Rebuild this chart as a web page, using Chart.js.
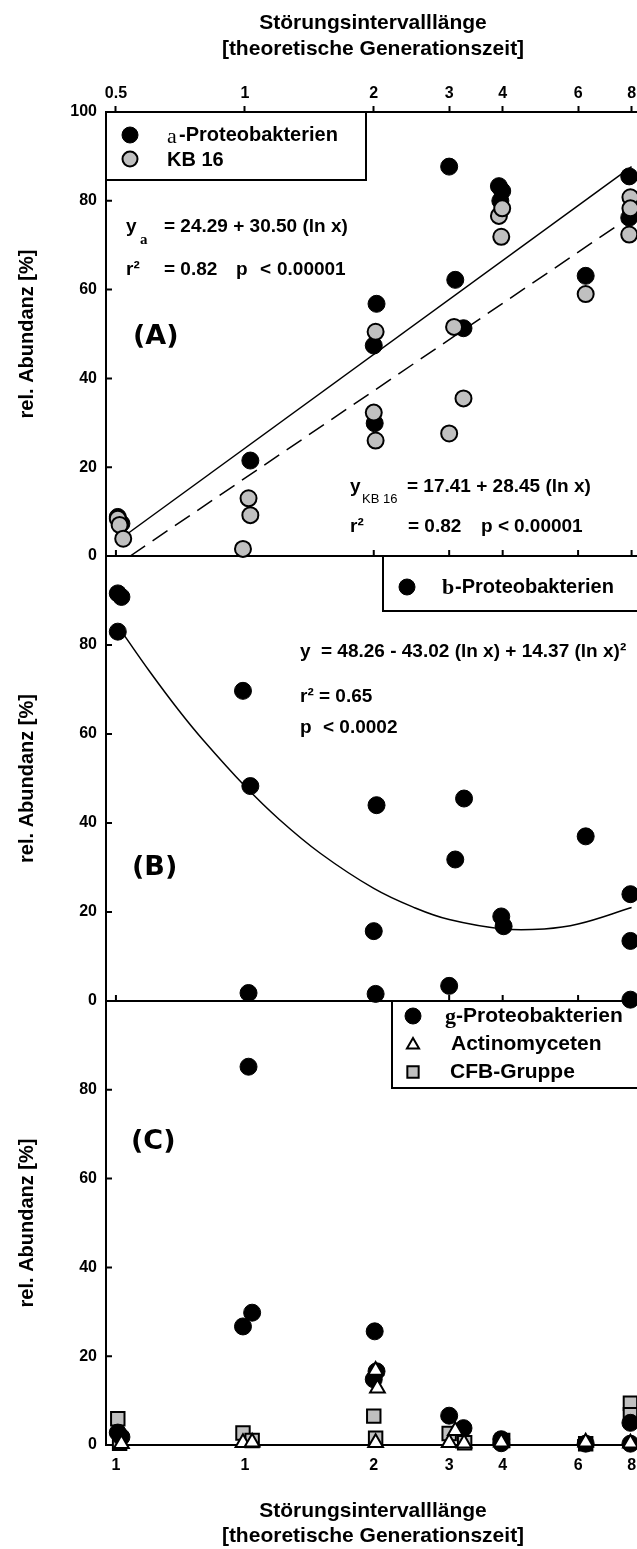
<!DOCTYPE html>
<html lang="de">
<head>
<meta charset="UTF-8">
<title>Störungsintervalllänge - rel. Abundanz</title>
<script src="https://cdn.jsdelivr.net/npm/chart.js"></script>
<style>
    html, body { margin: 0; padding: 0; background: #fff; overflow: hidden; }
    .wrap { position: relative; width: 637px; height: 1549px; overflow: hidden; }
    canvas { position: absolute; left: 0; top: 0; }
</style>
</head>
<body>
<div class="wrap">
    <canvas id="panelA" width="660" height="1549"></canvas>
    <canvas id="panelB" width="660" height="1549"></canvas>
    <canvas id="panelC" width="660" height="1549"></canvas>
</div>
<script>
// shared log x axis
const xTicks = [0.5, 1, 2, 3, 4, 6, 8];
const xTopLabels = ['0.5', '1', '2', '3', '4', '6', '8'];
const xBottomLabels = ['1', '1', '2', '3', '4', '6', '8'];
const yTicksA = [0, 20, 40, 60, 80, 100];
const yTicksBC = [0, 20, 40, 60, 80];

// (A) a-Proteobakterien and KB 16
const alphaX = [0.505, 0.515, 1.03, 2.0, 2.03, 2.01, 3.0, 3.1, 3.24, 3.92, 3.99, 3.95, 6.25, 7.9, 7.9];
const alphaY = [8.8, 7.3, 21.5, 47.4, 56.8, 29.9, 87.7, 62.2, 51.3, 83.3, 82.2, 80.0, 63.1, 85.5, 76.2];
const kbX = [0.505, 0.51, 0.52, 1.02, 1.03, 0.99, 2.02, 2.0, 2.02, 3.0, 3.08, 3.24, 3.92, 3.99, 3.97, 6.25, 7.95, 7.95, 7.9];
const kbY = [8.4, 7.0, 3.9, 13.0, 9.2, 1.6, 50.5, 32.3, 26.0, 27.6, 51.6, 35.5, 76.6, 78.3, 71.9, 59.0, 80.8, 78.3, 72.4];
// regression lines, end points
const alphaFitX = [0.53, 8];
const alphaFitY = [4.9, 87.7];
const kbFitX = [0.54, 8];
const kbFitY = [0, 76.6];

// (B) b-Proteobakterien
const betaX = [0.505, 0.515, 0.505, 0.99, 1.03, 1.02, 2.03, 2.0, 2.02, 3.0, 3.1, 3.25, 3.97, 4.02, 6.25, 7.95, 7.95, 7.95];
const betaY = [91.6, 90.8, 83.0, 69.7, 48.3, 1.8, 44.0, 15.7, 1.6, 3.4, 31.8, 45.5, 19.0, 16.8, 37.0, 24.0, 13.5, 0.3];
const betaFitX = [0.52, 0.6, 0.7, 0.8, 1, 1.2, 1.5, 2, 2.5, 3, 4, 5, 6, 8];
const betaFitY = [82.5, 74.0, 65.4, 58.6, 48.3, 40.9, 33.2, 25.3, 20.9, 18.3, 16.2, 16.2, 17.3, 21.0];

// (C) g-Proteobakterien, Actinomyceten, CFB-Gruppe
const gammaX = [0.505, 0.515, 0.99, 1.04, 1.02, 2.01, 2.03, 2.0, 3.0, 3.24, 3.97, 3.97, 6.25, 7.95, 7.95];
const gammaY = [2.8, 1.8, 26.7, 29.8, 85.2, 25.6, 16.6, 14.8, 6.6, 3.8, 1.3, 0.4, 0.3, 5.0, 0.3];
const actinoX = [0.515, 0.99, 1.04, 2.02, 2.04, 2.02, 3.0, 3.1, 3.25, 3.97, 6.25, 7.95];
const actinoY = [0.3, 0.5, 0.6, 16.8, 12.8, 0.5, 0.5, 3.2, 0.4, 0.6, 0.6, 0.4];
const cfbX = [0.505, 0.51, 0.99, 1.04, 2.0, 2.02, 3.0, 3.26, 4.0, 6.25, 7.95, 7.95];
const cfbY = [5.9, 0.4, 2.7, 1.0, 6.5, 1.5, 2.6, 0.5, 1.0, 0.3, 9.4, 6.8];

const pts = (xs, ys) => xs.map((x, i) => ({ x: x, y: ys[i] }));

const SANS = "'Liberation Sans', Arial, sans-serif";
const SERIF = "'Liberation Serif', 'Times New Roman', serif";
Chart.defaults.font.family = SANS;
Chart.defaults.color = '#000';

const STYLE = {
    black: { pointStyle: 'circle', pointRadius: 8.5, backgroundColor: '#000', borderColor: '#000', borderWidth: 1 },
    grey: { pointStyle: 'circle', pointRadius: 8, backgroundColor: '#c0c0c0', borderColor: '#000', borderWidth: 2 },
    tri: { pointStyle: 'triangle', pointRadius: 8.5, backgroundColor: '#fff', borderColor: '#000', borderWidth: 2 },
    square: { pointStyle: 'rect', pointRadius: 9.5, backgroundColor: '#c0c0c0', borderColor: '#000', borderWidth: 2 }
};

const X_MIN = 0.474, X_MAX = 8.37;

function logX(extra) {
    return Object.assign({
        type: 'logarithmic', min: X_MIN, max: X_MAX,
        afterBuildTicks: s => { s.ticks = xTicks.map(v => ({ value: v })); },
        grid: { drawOnChartArea: false, drawTicks: false },
        border: { display: true, color: '#000', width: 2 },
        ticks: { display: false }
    }, extra);
}

function yScale(ticks) {
    return {
        min: 0, max: 100,
        afterBuildTicks: s => { s.ticks = ticks.map(v => ({ value: v })); },
        afterFit: s => { s.width = 106; },
        grid: { drawOnChartArea: false, drawTicks: false },
        border: { display: true, color: '#000', width: 2 },
        ticks: { color: '#000', padding: 9, font: { size: 16, weight: 'bold' } },
        title: {
            display: true, text: 'rel. Abundanz [%]', color: '#000',
            font: { size: 20, weight: 'bold', lineHeight: 1.2 }, padding: { top: 15, bottom: 0 }
        }
    };
}

const xTitle = {
    display: true, color: '#000',
    text: ['Störungsintervalllänge', '[theoretische Generationszeit]'],
    font: { size: 21, weight: 'bold', lineHeight: 1.2 }
};

// tick marks pointing into the plot
function innerTicks(yTicks) {
    return {
        id: 'innerTicks',
        beforeDatasetsDraw(chart) {
            const { ctx, chartArea: a, scales } = chart;
            ctx.save();
            ctx.strokeStyle = '#000';
            ctx.lineWidth = 2;
            ctx.beginPath();
            yTicks.forEach(v => {
                const py = scales.y.getPixelForValue(v);
                ctx.moveTo(a.left, py); ctx.lineTo(a.left + 6, py);
            });
            xTicks.forEach(v => {
                const px = scales.x.getPixelForValue(v);
                ctx.moveTo(px, a.bottom); ctx.lineTo(px, a.bottom - 6);
            });
            ctx.stroke();
            ctx.restore();
        }
    };
}

function drawMark(ctx, m) {
    const r = m.pointRadius;
    ctx.beginPath();
    if (m.pointStyle === 'circle') {
        ctx.arc(m.x, m.y, r, 0, Math.PI * 2);
    } else if (m.pointStyle === 'triangle') {
        ctx.moveTo(m.x, m.y - r);
        ctx.lineTo(m.x + r * Math.sqrt(3) / 2, m.y + r / 2);
        ctx.lineTo(m.x - r * Math.sqrt(3) / 2, m.y + r / 2);
        ctx.closePath();
    } else {
        const s = r * Math.SQRT1_2;
        ctx.rect(m.x - s, m.y - s, 2 * s, 2 * s);
    }
    ctx.fillStyle = m.backgroundColor;
    ctx.fill();
    ctx.lineWidth = m.borderWidth;
    ctx.strokeStyle = m.borderColor;
    ctx.stroke();
}

// legend boxes, equations and panel letters
function overlay(spec) {
    return {
        id: 'overlay',
        afterDatasetsDraw(chart) {
            const ctx = chart.ctx;
            ctx.save();
            ctx.strokeStyle = '#000';
            ctx.lineWidth = 2;
            spec.boxes.forEach(b => ctx.strokeRect(b[0], b[1], b[2], b[3]));
            spec.marks.forEach(m => drawMark(ctx, m));
            ctx.fillStyle = '#000';
            ctx.textBaseline = 'middle';
            ctx.textAlign = 'left';
            spec.texts.forEach(t => { ctx.font = t.f; ctx.fillText(t.t, t.x, t.y); });
            ctx.restore();
        }
    };
}

const EQ = 'bold 19px ' + SANS;
const LEG = 'bold 20px ' + SANS;
const PANEL = "bold 27px 'DejaVu Sans', sans-serif";
const mark = (style, x, y, r) => Object.assign({}, STYLE[style], { x: x, y: y }, r ? { pointRadius: r } : {});

const baseOptions = (padding, scales) => ({
    responsive: false,
    animation: false,
    layout: { padding: padding },
    plugins: { legend: { display: false }, tooltip: { enabled: false } },
    scales: scales
});

// ---------- (A) ----------
new Chart(document.getElementById('panelA'), {
    type: 'scatter',
    data: {
        datasets: [
            Object.assign({ label: 'a-Proteobakterien', data: pts(alphaX, alphaY), order: 2, clip: false }, STYLE.black),
            Object.assign({ label: 'KB 16', data: pts(kbX, kbY), order: 1, clip: false }, STYLE.grey),
            { type: 'line', label: 'Fit a', data: pts(alphaFitX, alphaFitY), order: 3, borderColor: '#000', borderWidth: 1.5, pointRadius: 0, fill: false },
            { type: 'line', label: 'Fit KB 16', data: pts(kbFitX, kbFitY), order: 3, borderColor: '#000', borderWidth: 1.5, borderDash: [18, 9], pointRadius: 0, fill: false }
        ]
    },
    options: baseOptions({ left: 0, right: 20, top: 0, bottom: 993 }, {
        x: logX({
            position: 'top',
            afterFit: s => { s.height = 112; },
            grid: { drawOnChartArea: false, drawTicks: true, tickLength: 6, tickWidth: 2, tickColor: '#000' },
            ticks: {
                display: true, color: '#000', padding: 3, autoSkip: false, maxRotation: 0,
                font: { size: 16, weight: 'bold' },
                callback: (v, i) => xTopLabels[i]
            },
            title: Object.assign({ padding: { top: 11, bottom: 0 } }, xTitle)
        }),
        xb: logX({ position: 'bottom', afterFit: s => { s.height = 0; } }),
        y: yScale(yTicksA)
    }),
    plugins: [innerTicks(yTicksA), overlay({
        boxes: [[106, 112, 260, 68]],
        marks: [mark('black', 130, 135, 8), mark('grey', 130, 159, 7.5)],
        texts: [
            { x: 167, y: 137, t: 'a', f: '22px ' + SERIF },
            { x: 179, y: 135, t: '-Proteobakterien', f: LEG },
            { x: 167, y: 160, t: 'KB 16', f: LEG },
            { x: 126, y: 227, t: 'y', f: EQ },
            { x: 140, y: 240, t: 'a', f: 'bold 15px ' + SERIF },
            { x: 164, y: 227, t: '= 24.29 + 30.50 (ln x)', f: EQ },
            { x: 126, y: 270, t: 'r²', f: EQ },
            { x: 164, y: 270, t: '= 0.82', f: EQ },
            { x: 236, y: 270, t: 'p', f: EQ },
            { x: 260, y: 270, t: '<', f: EQ },
            { x: 277, y: 270, t: '0.00001', f: EQ },
            { x: 350, y: 487, t: 'y', f: EQ },
            { x: 362, y: 499, t: 'KB 16', f: "13px 'Liberation Sans Narrow', " + SANS },
            { x: 407, y: 487, t: '= 17.41 + 28.45 (ln x)', f: EQ },
            { x: 350, y: 527, t: 'r²', f: EQ },
            { x: 408, y: 527, t: '= 0.82', f: EQ },
            { x: 481, y: 527, t: 'p', f: EQ },
            { x: 498, y: 527, t: '<', f: EQ },
            { x: 514, y: 527, t: '0.00001', f: EQ },
            { x: 133, y: 337, t: '(A)', f: PANEL }
        ]
    })]
});

// ---------- (B) ----------
new Chart(document.getElementById('panelB'), {
    type: 'scatter',
    data: {
        datasets: [
            Object.assign({ label: 'b-Proteobakterien', data: pts(betaX, betaY), order: 1, clip: false }, STYLE.black),
            { type: 'line', label: 'Fit b', data: pts(betaFitX, betaFitY), order: 2, borderColor: '#000', borderWidth: 1.5, pointRadius: 0, tension: 0.4, fill: false }
        ]
    },
    options: baseOptions({ left: 0, right: 20, top: 556, bottom: 548 }, {
        x: logX({ position: 'bottom', afterFit: s => { s.height = 0; } }),
        y: yScale(yTicksBC)
    }),
    plugins: [innerTicks(yTicksBC), overlay({
        boxes: [[383, 556, 320, 55]],
        marks: [mark('black', 407, 587, 8)],
        texts: [
            { x: 442, y: 588, t: 'b', f: 'bold 22px ' + SERIF },
            { x: 455, y: 587, t: '-Proteobakterien', f: LEG },
            { x: 300, y: 652, t: 'y', f: EQ },
            { x: 321, y: 652, t: '= 48.26 - 43.02 (ln x) + 14.37 (ln x)²', f: EQ },
            { x: 300, y: 697, t: 'r² = 0.65', f: EQ },
            { x: 300, y: 728, t: 'p', f: EQ },
            { x: 323, y: 728, t: '< 0.0002', f: EQ },
            { x: 132, y: 868, t: '(B)', f: PANEL }
        ]
    })]
});

// ---------- (C) ----------
new Chart(document.getElementById('panelC'), {
    type: 'scatter',
    data: {
        datasets: [
            Object.assign({ label: 'g-Proteobakterien', data: pts(gammaX, gammaY), order: 2, clip: false }, STYLE.black),
            Object.assign({ label: 'Actinomyceten', data: pts(actinoX, actinoY), order: 1, clip: false }, STYLE.tri),
            Object.assign({ label: 'CFB-Gruppe', data: pts(cfbX, cfbY), order: 3, clip: false }, STYLE.square)
        ]
    },
    options: baseOptions({ left: 0, right: 20, top: 1001, bottom: 0 }, {
        x: logX({
            position: 'bottom',
            afterFit: s => { s.height = 104; },
            ticks: {
                display: true, color: '#000', padding: 11, autoSkip: false, maxRotation: 0,
                font: { size: 16, weight: 'bold' },
                callback: (v, i) => xBottomLabels[i]
            },
            title: Object.assign({ padding: { top: 0, bottom: 0 } }, xTitle)
        }),
        y: yScale(yTicksBC)
    }),
    plugins: [innerTicks(yTicksBC), overlay({
        boxes: [[392, 1001, 320, 87]],
        marks: [mark('black', 413, 1016, 8), mark('tri', 413, 1045, 7), mark('square', 413, 1072, 8)],
        texts: [
            { x: 445, y: 1017, t: 'g', f: 'bold 22px ' + SERIF },
            { x: 456, y: 1016, t: '-Proteobakterien', f: 'bold 21px ' + SANS },
            { x: 451, y: 1044, t: 'Actinomyceten', f: 'bold 21px ' + SANS },
            { x: 450, y: 1072, t: 'CFB-Gruppe', f: 'bold 21px ' + SANS },
            { x: 131, y: 1142, t: '(C)', f: PANEL }
        ]
    })]
});
</script>
</body>
</html>
